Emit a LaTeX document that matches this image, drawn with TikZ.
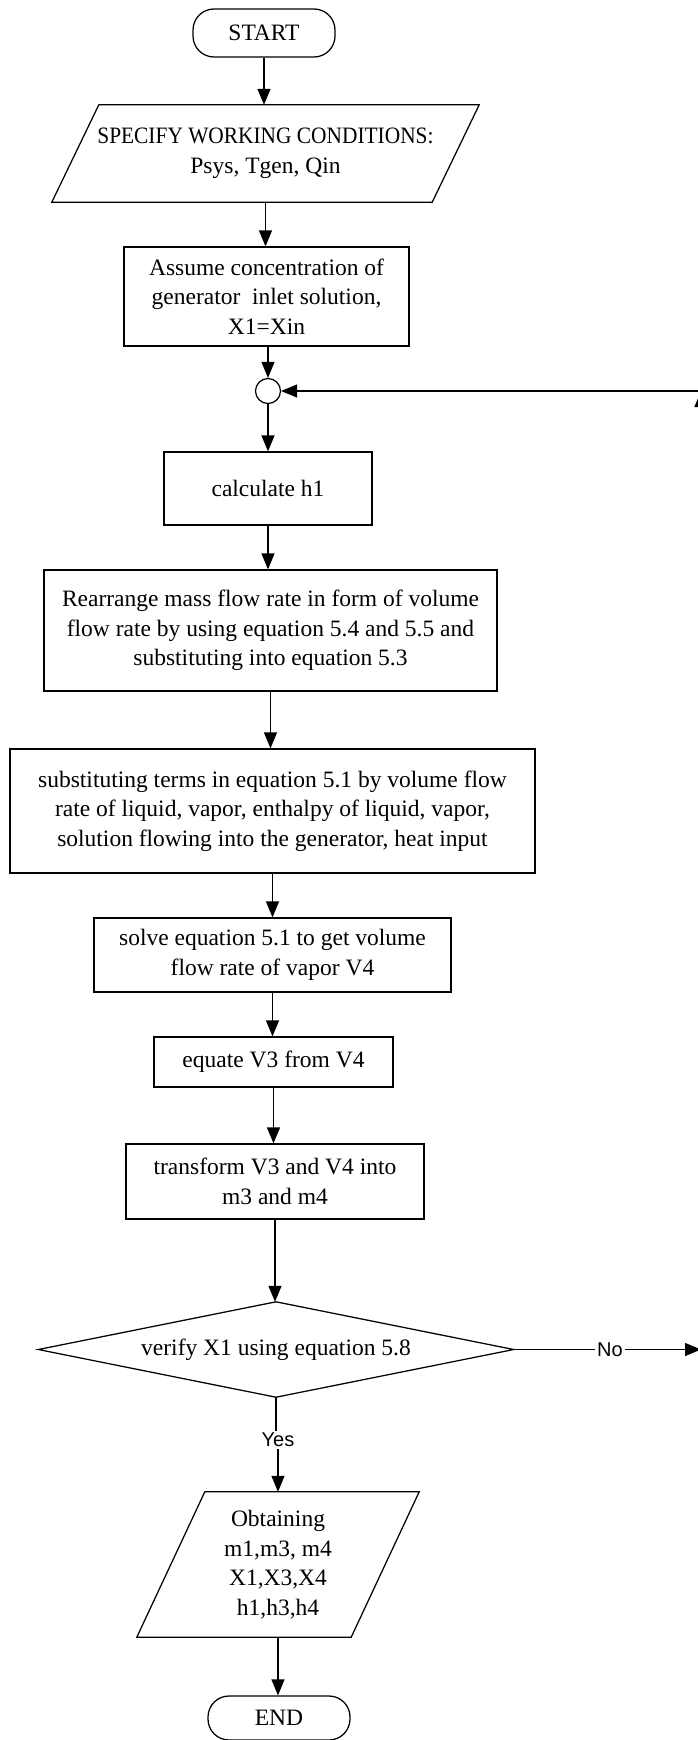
\documentclass[tikz,border=0pt]{standalone}
\usepackage{fontspec}
\setmainfont{Liberation Serif}
\newfontfamily\tagfont{Liberation Sans}
\usetikzlibrary{arrows.meta}

\begin{document}
\begin{tikzpicture}[x=1pt,y=-1pt,
  every node/.style={font=\fontsize{23.5}{29.5}\selectfont, align=center, inner sep=0pt},
  flow/.style={line width=1.25pt},
  arr/.style={flow, -{Triangle[length=16pt,width=13pt]}},
  proc/.style={draw, flow},
  terminal/.style={draw, flow, rounded corners=21pt, minimum width=142pt, minimum height=48pt},
  tag/.style={font=\tagfont\fontsize{20}{24}\selectfont, inner sep=2pt}
]
\useasboundingbox (0,0) rectangle (698,1740);
\fill[white] (0,0) rectangle (698,1740);
\clip (0,0) rectangle (698,1740);

% ---- nodes ----
\node[terminal] (start) at (264,33) {START};

\node[minimum width=380pt, minimum height=97pt] (spec) at (265.5,153.5)
  {\scalebox{0.91}[1]{SPECIFY WORKING CONDITIONS:}\\Psys, Tgen, Qin};
\draw[flow] ([xshift=23.5pt]spec.north west) -- ([xshift=23.5pt]spec.north east)
  -- ([xshift=-23.5pt]spec.south east) -- ([xshift=-23.5pt]spec.south west) -- cycle;

\node[proc, minimum width=285pt, minimum height=99pt] (assume) at (266.5,296.5)
  {Assume concentration of\\generator\ \ inlet solution,\\X1=Xin};

\node[draw, flow, circle, minimum size=25pt] (join) at (268,391) {};

\node[proc, minimum width=208pt, minimum height=73pt] (calc) at (268,488.5) {calculate h1};

\node[proc, minimum width=453pt, minimum height=121pt] (rearr) at (270.5,630.5)
  {Rearrange mass flow rate in form of volume\\flow rate by using equation 5.4 and 5.5 and\\substituting into equation 5.3};

\node[proc, minimum width=525pt, minimum height=124pt] (subst) at (272.5,811)
  {substituting terms in equation 5.1 by volume flow\\rate of liquid, vapor, enthalpy of liquid, vapor,\\solution flowing into the generator, heat input};

\node[proc, minimum width=357pt, minimum height=74pt] (solve) at (272.5,955)
  {solve equation 5.1 to get volume\\flow rate of vapor V4};

\node[proc, minimum width=239pt, minimum height=50pt] (equate) at (273.5,1062) {equate V3 from V4};

\node[proc, minimum width=298pt, minimum height=75pt] (transf) at (275,1181.5)
  {transform V3 and V4 into\\m3 and m4};

\node[minimum width=475pt, minimum height=95pt] (verify) at (276,1349.5) {verify X1 using equation 5.8};
\draw[flow] (verify.north) -- (verify.east) -- (verify.south) -- (verify.west) -- cycle;

\node[tag] (yes) at (278,1440) {Yes};
\node[tag] (no) at (610,1349.5) {No};

\node[minimum width=214pt, minimum height=145pt] (obt) at (278,1564.5)
  {Obtaining\\m1,m3, m4\\X1,X3,X4\\h1,h3,h4};
\draw[flow] ([xshift=34pt]obt.north west) -- ([xshift=34pt]obt.north east)
  -- ([xshift=-34pt]obt.south east) -- ([xshift=-34pt]obt.south west) -- cycle;

\node[terminal, minimum height=44pt] (stop) at (279,1718) {END};

\coordinate (noend) at (701,1349.5);
\coordinate (back) at (701,391);

% ---- connectors ----
\draw[arr] (start.south) -- (start.south |- spec.north);
\draw[arr] (spec.south) -- (spec.south |- assume.north);
\draw[arr] (assume.south -| join.north) -- (join.north);
\draw[arr] (join.south) -- (join.south |- calc.north);
\draw[arr] (calc.south) -- (calc.south |- rearr.north);
\draw[arr] (rearr.south) -- (rearr.south |- subst.north);
\draw[arr] (subst.south) -- (subst.south |- solve.north);
\draw[arr] (solve.south) -- (solve.south |- equate.north);
\draw[arr] (equate.south) -- (equate.south |- transf.north);
\draw[arr] (transf.south) -- (transf.south |- verify.north);
\draw[flow] (verify.south) -- (verify.south |- yes.north);
\draw[arr] (yes.south) -- (yes.south |- obt.north);
\draw[arr] (obt.south) -- (obt.south |- stop.north);

% "No" branch back to the junction
\draw[flow] (verify.east) -- (no.west);
\draw[arr] (no.east) -- (noend);
\draw[arr] (noend) -- (back);
\draw[arr] (back) -- (join.east);
\end{tikzpicture}
\end{document}
